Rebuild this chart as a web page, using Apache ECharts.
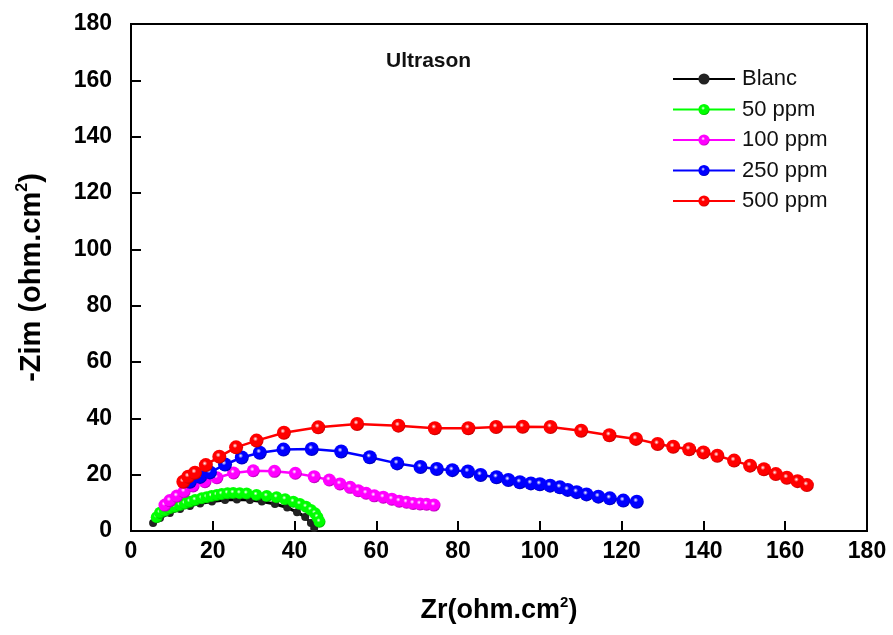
<!DOCTYPE html>
<html>
<head>
<meta charset="utf-8">
<script src="https://cdn.jsdelivr.net/npm/echarts@6/dist/echarts.min.js"></script>
<style>html,body{margin:0;padding:0;background:#fff}#c{width:893px;height:635px}</style>
</head>
<body>
<div id="c"></div>
<script>
var seriesNames = ['Blanc', '50 ppm', '100 ppm', '250 ppm', '500 ppm'];
var xTicks = [0, 20, 40, 60, 80, 100, 120, 140, 160, 180];
var yTicks = [0, 20, 40, 60, 80, 100, 120, 140, 160, 180];

var blancX = [5.4, 7.1, 9.5, 12.0, 14.4, 16.9, 19.8, 23.0, 25.9, 29.1, 32.0, 35.2, 38.2, 40.6, 42.6, 44.0, 44.8];
var blancY = [2.8, 4.6, 6.4, 7.8, 8.9, 9.8, 10.5, 11.0, 11.2, 11.0, 10.5, 9.6, 8.3, 6.7, 5.0, 2.8, 1.1];

var p50X = [6.3, 7.1, 8.3, 9.5, 10.8, 12.0, 13.2, 14.4, 15.7, 17.3, 18.5, 19.7, 21.0, 22.2, 23.6, 25.0, 26.6, 28.3, 30.7, 33.2, 35.6, 37.7, 39.7, 41.3, 42.8, 44.0, 45.0, 45.6, 46.1];
var p50Y = [4.9, 6.5, 7.2, 8.1, 8.6, 9.2, 9.8, 10.4, 11.0, 11.6, 12.0, 12.4, 12.8, 13.1, 13.4, 13.5, 13.4, 13.3, 12.8, 12.4, 12.0, 11.3, 10.4, 9.6, 8.6, 7.5, 6.3, 4.9, 3.3];

var p100X = [8.3, 9.5, 11.2, 13.0, 15.2, 18.1, 21.0, 25.1, 29.9, 35.1, 40.2, 44.8, 48.5, 51.1, 53.6, 55.6, 57.5, 59.5, 61.7, 63.8, 65.6, 67.4, 69.0, 70.7, 72.3, 74.1];
var p100Y = [9.2, 10.8, 12.4, 14.0, 16.0, 17.5, 18.9, 20.6, 21.4, 21.2, 20.5, 19.3, 18.1, 16.7, 15.5, 14.3, 13.4, 12.5, 12.0, 11.3, 10.6, 10.2, 9.8, 9.6, 9.5, 9.2];

var p250X = [14.4, 16.9, 19.3, 23.0, 27.1, 31.5, 37.3, 44.2, 51.4, 58.4, 65.1, 70.8, 74.8, 78.6, 82.4, 85.5, 89.4, 92.3, 95.1, 97.8, 100.0, 102.5, 104.9, 106.8, 109.0, 111.4, 114.3, 117.1, 120.4, 123.7];
var p250Y = [17.5, 19.2, 20.8, 23.6, 26.1, 27.8, 28.9, 29.1, 28.2, 26.2, 24.0, 22.7, 22.0, 21.6, 21.1, 19.9, 19.1, 18.1, 17.3, 16.9, 16.6, 16.1, 15.5, 14.6, 13.8, 13.0, 12.2, 11.6, 10.8, 10.4];

var p500X = [12.8, 14.0, 15.65, 18.3, 21.6, 25.7, 30.7, 37.4, 45.8, 55.3, 65.4, 74.3, 82.5, 89.3, 95.8, 102.6, 110.1, 117.0, 123.5, 128.8, 132.6, 136.5, 140.0, 143.4, 147.5, 151.4, 154.8, 157.7, 160.4, 163.0, 165.3];
var p500Y = [17.5, 19.3, 20.7, 23.4, 26.4, 29.7, 32.1, 34.9, 36.8, 38.0, 37.4, 36.5, 36.5, 36.9, 37.0, 36.9, 35.6, 34.0, 32.7, 30.9, 29.9, 29.0, 27.9, 26.7, 25.0, 23.2, 21.9, 20.2, 18.9, 17.7, 16.3];

var colors = ['#000000', '#00ff00', '#ff00ff', '#0000ff', '#ff0000'];
var darks = ['#000000', '#00b000', '#b000b0', '#0000b0', '#c00000'];
var sizes = [8, 12, 13, 14, 14];
var xs = [blancX, p50X, p100X, p250X, p500X];
var ys = [blancY, p50Y, p100Y, p250Y, p500Y];

function pairs(a, b) { return a.map(function (v, i) { return [v, b[i]]; }); }
function sphere(c, d) {
  return { type: 'radial', x: 0.42, y: 0.38, r: 0.62, colorStops: [
    { offset: 0, color: '#ffffff' }, { offset: 0.28, color: c }, { offset: 0.8, color: c }, { offset: 1, color: d }] };
}

var series = seriesNames.map(function (n, i) {
  return {
    name: n, type: 'line', data: pairs(xs[i], ys[i]),
    symbol: 'circle', symbolSize: sizes[i], showSymbol: true,
    lineStyle: { color: colors[i], width: i === 0 ? 3 : 2.5 },
    itemStyle: { color: i === 0 ? '#222' : sphere(colors[i], darks[i]) },
    emphasis: { disabled: true }, animation: false
  };
});

var chart = echarts.init(document.getElementById('c'), null, { renderer: 'canvas' });
var F = 'Liberation Sans, Arial, sans-serif';
chart.setOption({
  animation: false,
  grid: { left: 131, top: 24, width: 736, height: 507, show: true, borderColor: '#000', borderWidth: 2, backgroundColor: 'transparent' },
  title: { text: 'Ultrason', left: 386, top: 51, padding: 0, textStyle: { fontFamily: F, fontSize: 21, fontWeight: 'bold', color: '#111' } },
  legend: {
    data: seriesNames, orient: 'vertical', left: 667, top: 63, itemWidth: 62, itemHeight: 14, itemGap: 8.5,
    textStyle: { fontFamily: F, fontSize: 22, color: '#111', padding: [0, 0, 0, 2] }
  },
  xAxis: {
    type: 'value', min: 0, max: 180, interval: 20,
    name: 'Zr(ohm.cm{sup|2})', nameLocation: 'middle', nameGap: 64,
    nameTextStyle: { fontFamily: F, fontSize: 27, fontWeight: 'bold', color: '#000', rich: { sup: { fontFamily: F, fontSize: 15, fontWeight: 'bold', padding: [0, 0, 16, 0] } } },
    axisLine: { show: true, lineStyle: { color: '#000', width: 2 } },
    axisTick: { show: true, inside: true, length: 10, lineStyle: { color: '#000', width: 2 } },
    axisLabel: { fontFamily: F, fontSize: 23, fontWeight: 'bold', color: '#000', margin: 9, formatter: function (v) { return xTicks.indexOf(v) >= 0 ? String(v) : ''; } },
    splitLine: { show: false }
  },
  yAxis: {
    type: 'value', min: 0, max: 180, interval: 20,
    name: '-Zim (ohm.cm{sup|2})', nameLocation: 'middle', nameGap: 82,
    nameTextStyle: { fontFamily: F, fontSize: 29, fontWeight: 'bold', color: '#000', rich: { sup: { fontFamily: F, fontSize: 16, fontWeight: 'bold', padding: [0, 0, 18, 0] } } },
    axisLine: { show: true, lineStyle: { color: '#000', width: 2 } },
    axisTick: { show: true, inside: true, length: 10, lineStyle: { color: '#000', width: 2 } },
    axisLabel: { fontFamily: F, fontSize: 23, fontWeight: 'bold', color: '#000', margin: 19, formatter: function (v) { return yTicks.indexOf(v) >= 0 ? String(v) : ''; } },
    splitLine: { show: false }
  },
  series: series
});
</script>
</body>
</html>
